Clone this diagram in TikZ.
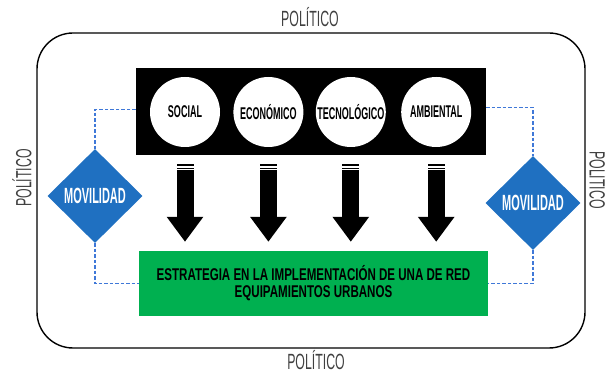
\documentclass[tikz,border=0pt]{standalone}
\usepackage{fontspec}
\newfontfamily\polfont[FakeStretch=0.56]{Liberation Sans}
\newfontfamily\circfont[FakeStretch=0.53]{Liberation Sans}
\newfontfamily\stratfont[FakeStretch=0.68]{Liberation Sans}
\newfontfamily\movfont[FakeStretch=0.5]{Liberation Sans}
\usetikzlibrary{positioning,shapes.geometric,arrows.meta}
\definecolor{stratgreen}{HTML}{00B050}
\definecolor{movblue}{HTML}{1F70C1}
\definecolor{linkblue}{HTML}{3F78D8}
\definecolor{polgray}{HTML}{404040}
\tikzset{
  frame/.style ={draw=black, line width=1.4pt, rounded corners=36pt},
  pol/.style   ={font=\polfont\fontsize{22}{22}\selectfont, text=polgray, inner sep=0pt},
  band/.style  ={rectangle, fill=black, minimum width=350pt, minimum height=87pt},
  topic/.style ={circle, fill=white, minimum size=70pt, inner sep=0pt, font=\circfont\bfseries\fontsize{17}{17}\selectfont},
  mov/.style   ={diamond, fill=movblue, minimum width=95pt, minimum height=94pt, inner sep=0pt, text=white, font=\movfont\bfseries\fontsize{22}{22}\selectfont},
  strat/.style ={rectangle, fill=stratgreen, minimum width=349pt, minimum height=65pt, align=center, font=\stratfont\bfseries\fontsize{17}{17}\selectfont},
  bigarr/.style={-{Triangle[width=35pt,length=25pt]}, line width=17pt, shorten <=9pt, shorten >=9pt,
                 postaction={draw=white, -, line width=17pt, dash pattern=on 0pt off 2.3pt on 1.2pt off 1.8pt on 1pt off 400pt}},
  link/.style  ={draw=linkblue, line width=1.3pt, dash pattern=on 3.5pt off 2pt},
}
\begin{document}
\begin{tikzpicture}[x=1pt, y=-1pt, node distance=13pt]
\useasboundingbox (0,0) rectangle (606,374);
\draw[frame] (37,33) rectangle (585,348);
\node[pol] (poltop) at (310,17) {POLÍTICO};
\node[pol] (polbot) at (316,360) {POLÍTICO};
\node[pol, rotate=90] (polleft) at (22,178) {POLÍTICO};
\node[pol, rotate=-90] (polright) at (599,180) {POLÍTICO};
\node[band] (band) at (311,111.5) {};
\node[topic] (soc) at (185,112) {SOCIAL};
\node[topic, right=of soc] (eco) {ECONÓMICO};
\node[topic, right=12pt of eco] (tec) {TECNOLÓGICO};
\node[topic, right=15pt of tec] (amb) {AMBIENTAL};
\node[strat] (strat) at (313.5,283.5) {ESTRATEGIA EN LA IMPLEMENTACIÓN DE UNA DE RED\\EQUIPAMIENTOS URBANOS};
\node[mov] (movl) at (95,196) {MOVILIDAD};
\node[mov] (movr) at (533,203) {MOVILIDAD};
\draw[bigarr] (soc |- band.south) -- (soc |- strat.north);
\draw[bigarr] (eco |- band.south) -- (eco |- strat.north);
\draw[bigarr] (tec |- band.south) -- (tec |- strat.north);
\draw[bigarr] (amb |- band.south) -- (amb |- strat.north);
\draw[link] ([yshift=2pt]band.west) -| (movl.north);
\draw[link] (movl.south) |- (strat.west);
\draw[link] ([yshift=4pt]band.east) -| (movr.north);
\draw[link] (movr.south) |- (strat.east);
\end{tikzpicture}
\end{document}
